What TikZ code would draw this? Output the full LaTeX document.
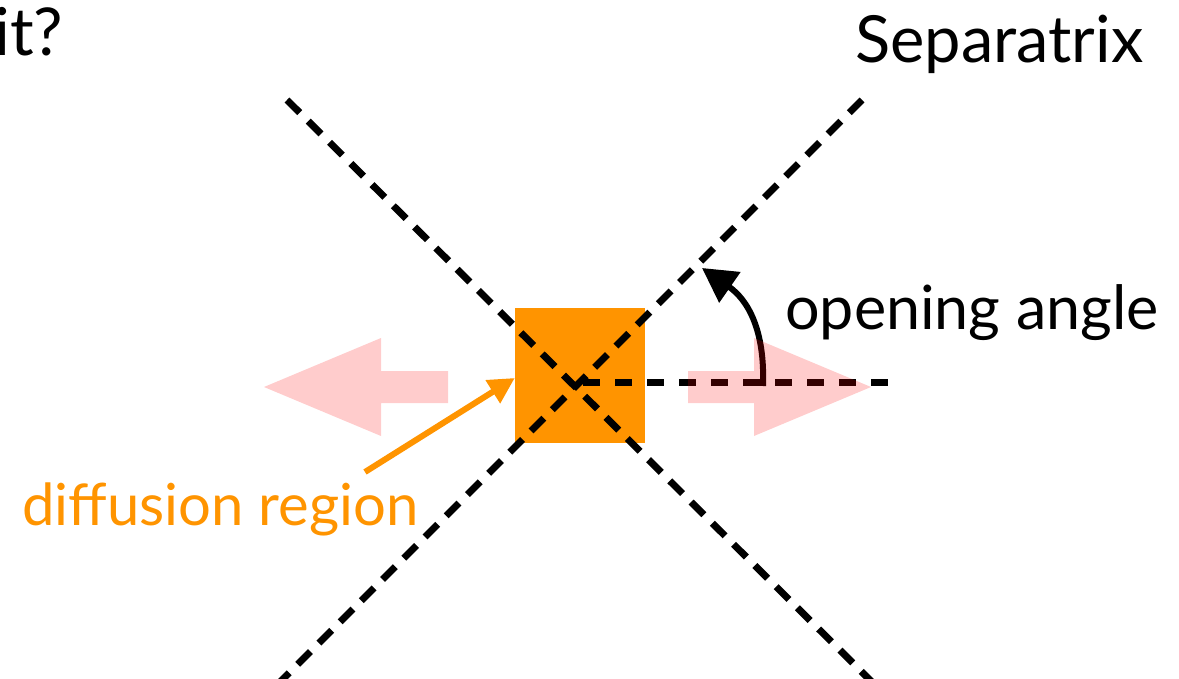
\documentclass[tikz,border=0pt]{standalone}
\usepackage{fontspec}
\setmainfont{Lato}
\usetikzlibrary{arrows.meta}
\definecolor{dorange}{RGB}{255,148,0}
\tikzset{
  sepline/.style={line width=7pt, dash pattern=on 18pt off 12pt},
  horline/.style={line width=7pt, dash pattern=on 17pt off 15pt},
  flowarrow/.style={fill=red, fill opacity=0.2, draw=none},
  lbl/.style={inner sep=0pt, font=\fontsize{58}{60}\selectfont},
}
\begin{document}
\begin{tikzpicture}[x=1pt,y=-1pt]
\useasboundingbox (0,0) rectangle (1179,679);
\clip (0,0) rectangle (1179,679);
% diffusion region
\node[fill=dorange, minimum width=130pt, minimum height=135pt, inner sep=0pt] (dr) at (580,375.5) {};
% separatrices
\coordinate (a1) at (287,100);
\coordinate (a2) at (880,690);
\coordinate (b1) at (862,100);
\coordinate (b2) at (272,690);
\coordinate (c) at (583,382);
\coordinate (h) at (890,382);
\draw[sepline] (a1) -- (a2);
\draw[sepline] (b1) -- (b2);
\draw[horline] (c) -- (h);
% opening angle arrow
\coordinate (oa0) at (763,386);
\coordinate (oa1) at (702,268);
\draw[line width=6pt, -{Triangle[length=34pt,width=36pt]}] (oa0) .. controls (765,330) and (748,300) .. (oa1);
% outflow arrows
\path[flowarrow] (264,387) -- (381,338) -- (381,371) -- (448,371) -- (448,403) -- (381,403) -- (381,436) -- cycle;
\path[flowarrow] (871,387) -- (754,338) -- (754,371) -- (688,371) -- (688,403) -- (754,403) -- (754,436) -- cycle;
% labels
\node[lbl, anchor=base west, font=\fontsize{66}{68}\selectfont] (q) at (-6,56) {it?};
\node[lbl, anchor=base west, font=\fontsize{65}{67}\selectfont] (sep) at (855,63) {Separatrix};
\node[lbl, anchor=base west, font=\fontsize{61}{63}\selectfont] (open) at (785,330) {opening angle};
\node[lbl, anchor=base west, text=dorange] (dif) at (22,525) {diffusion region};
\coordinate (ds) at (365,472);
\draw[dorange, line width=6pt, -{Triangle[length=26pt,width=26pt]}] (ds) -- (dr.west |- 0,378);
\end{tikzpicture}
\end{document}
